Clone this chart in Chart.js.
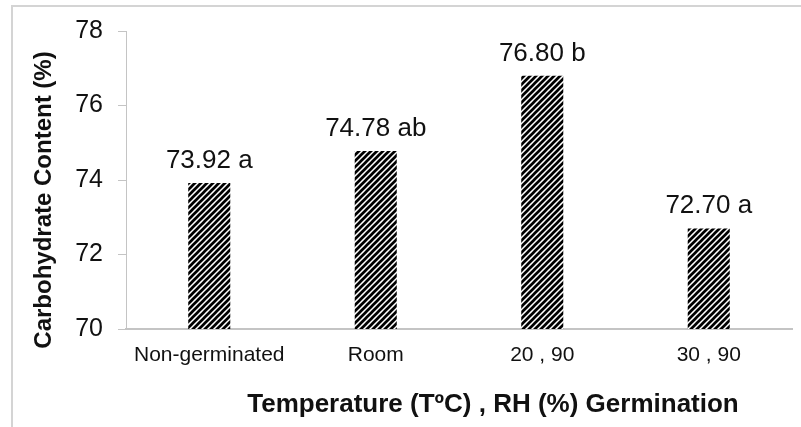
<!DOCTYPE html>
<html>
<head>
<meta charset="utf-8">
<script src="https://cdn.jsdelivr.net/npm/chart.js@4.4.1/dist/chart.umd.min.js"></script>
<style>
  html, body { margin: 0; padding: 0; background: #fff; }
  #wrap { position: relative; width: 801px; height: 427px; overflow: hidden; }
  #frame { position: absolute; left: 11px; top: 5px; width: 800px; height: 430px;
           border-left: 2px solid #d4d4d4; border-top: 2px solid #d4d4d4; }
  canvas { position: absolute; left: 0; top: 0; }
</style>
</head>
<body>
<div id="wrap">
  <div id="frame"></div>
  <canvas id="chart" width="801" height="427"></canvas>
</div>
<script>
// ── Data ──────────────────────────────────────────────
const categories = ['Non-germinated', 'Room', '20 , 90', '30 , 90'];
const carbValues = [73.92, 74.78, 76.80, 72.70];
const sigLetters = ['a', 'ab', 'b', 'a'];
const yTicks     = [70, 72, 74, 76, 78];

const FONT = '"Liberation Sans", Arial, sans-serif';
const INK  = '#111';
const AXIS = '#c4c4c4';

// diagonal hatch fill like the original
function hatchPattern() {
  const c = document.createElement('canvas');
  c.width = c.height = 6;
  const g = c.getContext('2d');
  g.fillStyle = '#fff';
  g.fillRect(0, 0, 6, 6);
  g.strokeStyle = '#000';
  g.lineWidth = 2.7;
  g.beginPath();
  g.moveTo(0, 6);  g.lineTo(6, 0);
  g.moveTo(-3, 3); g.lineTo(3, -3);
  g.moveTo(3, 9);  g.lineTo(9, 3);
  g.stroke();
  return g.createPattern(c, 'repeat');
}

// value + letter above each bar
const barLabels = {
  id: 'barLabels',
  afterDatasetsDraw(chart) {
    const ctx = chart.ctx;
    const meta = chart.getDatasetMeta(0);
    ctx.save();
    ctx.font = '26px ' + FONT;
    ctx.fillStyle = INK;
    ctx.textAlign = 'center';
    ctx.textBaseline = 'alphabetic';
    meta.data.forEach((bar, i) => {
      ctx.fillText(carbValues[i].toFixed(2) + ' ' + sigLetters[i], bar.x, bar.y - 15);
    });
    ctx.restore();
  }
};

// axis titles (x title sits right of centre in the original)
const axisTitles = {
  id: 'axisTitles',
  afterDraw(chart) {
    const { ctx, chartArea: a } = chart;
    ctx.save();
    ctx.fillStyle = INK;
    ctx.textAlign = 'center';
    ctx.textBaseline = 'middle';
    ctx.font = 'bold 26px ' + FONT;
    ctx.fillText('Temperature (TºC) , RH (%) Germination', (a.left + a.right) / 2 + 34, 405);
    ctx.translate(44, (a.top + a.bottom) / 2 + 20);
    ctx.rotate(-Math.PI / 2);
    ctx.font = 'bold 24px ' + FONT;
    ctx.fillText('Carbohydrate Content (%)', 0, 0);
    ctx.restore();
  }
};

new Chart(document.getElementById('chart'), {
  type: 'bar',
  data: {
    labels: categories,
    datasets: [{
      data: carbValues,
      backgroundColor: hatchPattern(),
      borderWidth: 0,
      barPercentage: 0.5,
      categoryPercentage: 0.505,
    }],
  },
  options: {
    responsive: false,
    animation: false,
    events: [],
    layout: { padding: { top: 31, right: 9, left: 0, bottom: 0 } },
    plugins: { legend: { display: false }, tooltip: { enabled: false } },
    scales: {
      x: {
        grid: { display: false, drawTicks: false },
        border: { color: AXIS, width: 2 },
        ticks: { color: INK, font: { family: FONT, size: 21 }, padding: 14, maxRotation: 0 },
        afterFit: s => { s.height = 98; },
      },
      y: {
        min: 70,
        max: 78,
        afterBuildTicks: s => { s.ticks = yTicks.map(v => ({ value: v })); },
        grid: { drawOnChartArea: false, color: AXIS, tickLength: 8, tickWidth: 1 },
        border: { color: AXIS, width: 1 },
        ticks: { color: INK, font: { family: FONT, size: 25 }, padding: 15 },
        afterFit: s => { s.width = 126; },
      },
    },
  },
  plugins: [barLabels, axisTitles],
});
</script>
</body>
</html>
